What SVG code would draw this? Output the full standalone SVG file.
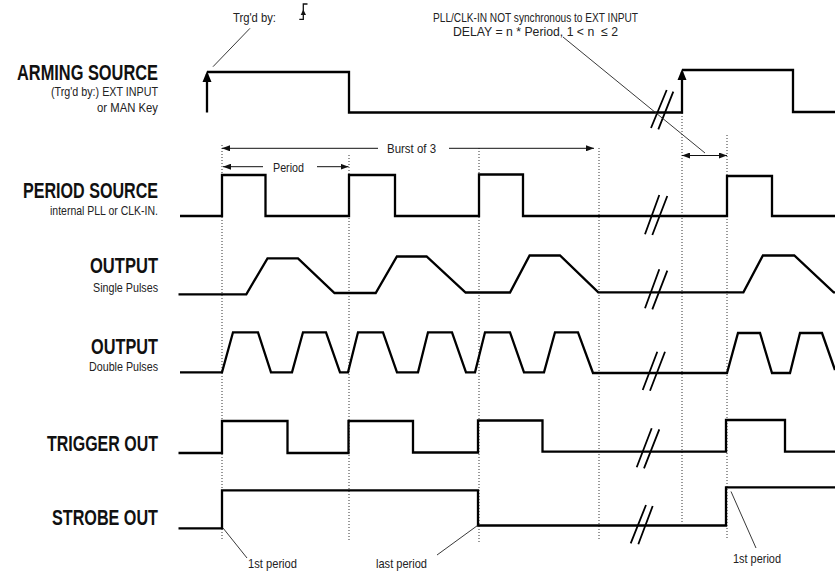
<svg xmlns="http://www.w3.org/2000/svg" width="835" height="571" viewBox="0 0 835 571">
<defs>
<marker id="ah" viewBox="0 0 8 6" refX="8" refY="3" markerWidth="8" markerHeight="6" markerUnits="userSpaceOnUse" orient="auto-start-reverse">
<path d="M0,0 L8,3 L0,6 z" fill="#111"/>
</marker>
<style>
.bg{fill:#fff}
.sig{fill:none;stroke:#000;stroke-width:2.3;stroke-linejoin:miter;stroke-linecap:butt}
.brk{stroke:#000;stroke-width:1.8;fill:none}
.dot{stroke:#333;stroke-width:1;stroke-dasharray:1 2;fill:none}
.ann{stroke:#222;stroke-width:0.9;fill:none}
.dim{stroke:#111;stroke-width:1;fill:none}
.big{font-family:"Liberation Sans","DejaVu Sans",sans-serif;font-weight:bold;font-size:22px;fill:#111}
.sm{font-family:"Liberation Sans","DejaVu Sans",sans-serif;font-size:13.5px;fill:#222}
</style>
</defs>
<rect class="bg" x="0" y="0" width="835" height="571"/>

<g id="guides">
<line class="dot" x1="222" y1="145" x2="222" y2="540"/>
<line class="dot" x1="349" y1="155" x2="349" y2="540"/>
<line class="dot" x1="479" y1="148" x2="479" y2="542"/>
<line class="dot" x1="599" y1="148" x2="599" y2="540"/>
<line class="dot" x1="682" y1="113" x2="682" y2="523"/>
<line class="dot" x1="727" y1="135" x2="727" y2="538"/>
</g>

<g id="labels">
<g id="label-arming">
<text class="big" x="17" y="80" textLength="141" lengthAdjust="spacingAndGlyphs">ARMING SOURCE</text>
<text class="sm" x="51" y="96" textLength="107" lengthAdjust="spacingAndGlyphs">(Trg'd by:) EXT INPUT</text>
<text class="sm" x="97" y="112" textLength="61" lengthAdjust="spacingAndGlyphs">or MAN Key</text>
</g>
<g id="label-period">
<text class="big" x="23" y="198" textLength="135" lengthAdjust="spacingAndGlyphs">PERIOD SOURCE</text>
<text class="sm" x="50" y="215" textLength="108" lengthAdjust="spacingAndGlyphs">internal PLL or CLK-IN.</text>
</g>
<g id="label-single">
<text class="big" x="90" y="273" textLength="68" lengthAdjust="spacingAndGlyphs">OUTPUT</text>
<text class="sm" x="93" y="292" textLength="65" lengthAdjust="spacingAndGlyphs">Single Pulses</text>
</g>
<g id="label-double">
<text class="big" x="91" y="354" textLength="67" lengthAdjust="spacingAndGlyphs">OUTPUT</text>
<text class="sm" x="89" y="371" textLength="69" lengthAdjust="spacingAndGlyphs">Double Pulses</text>
</g>
<g id="label-trigger">
<text class="big" x="47" y="451" textLength="111" lengthAdjust="spacingAndGlyphs">TRIGGER OUT</text>
</g>
<g id="label-strobe">
<text class="big" x="52" y="525" textLength="106" lengthAdjust="spacingAndGlyphs">STROBE OUT</text>
</g>
</g>

<g id="signals">
<g id="sig-arming">
<path class="sig" d="M207,112.5 V74 M207,72 H349 V112.5 H682 V72 M682,70 H793 V112 H835"/>
<polygon points="202.5,82 211.5,82 207,71" fill="#000"/>
<polygon points="677.5,80 686.5,80 682,69" fill="#000"/>
</g>
<g id="sig-period">
<path class="sig" d="M180,216 H222 V175 H265.5 V216 H349 V175 H395 V216 H479 V174.5 H523 V216 H727 V176 H772 V216 H835"/>
</g>
<g id="sig-single">
<path class="sig" d="M178.5,294.3 H246.3 L267.5,258.3 H298 L334.5,293 H375.7 L396.9,256.5 H426.6 L465.6,292.5 H510 L529.6,255.5 H560 L598.3,292.3 H743.4 L762.9,255.5 H794.3 L833.7,292.3 H835"/>
</g>
<g id="sig-double">
<path class="sig" d="M180,372.3 H222 L233,332.3 H258 L271,372.3 H292 L303,332.3 H326 L340,372.3 H348 L358,332.3 H383 L397,372.3 H418 L428,332.3 H452 L466,372.3 H475 L485,332.3 H510 L524,372.3 H544 L555,332.3 H578 L593,373 H727 L738,333 H760 L772,373 H790 L800,333 H822 L835,370"/>
</g>
<g id="sig-trigger">
<path class="sig" d="M178.5,453 H222 V421 H287.5 V453 H348.5 V421 H413 V452.5 H478 V420.5 H542.5 V451.7 H726 V420 H785 V451.7 H835"/>
</g>
<g id="sig-strobe">
<path class="sig" d="M178.5,528.3 H222 V490.3 H478 V525.5 H726 V487.3 H835"/>
</g>
</g>

<g id="breaks">
<path class="brk" d="M651,128 L666.7,90 M658.3,129.3 L673.3,91.7"/>
<path class="brk" d="M645,234.3 L659.3,195 M652.3,235 L667.3,196"/>
<path class="brk" d="M645,308.3 L659.3,269.3 M652.3,309.3 L667.3,270.7"/>
<path class="brk" d="M642.7,390 L657.3,351.7 M650,390.7 L665,351.7"/>
<path class="brk" d="M636.7,467.3 L651.7,428.3 M644,468.3 L659.3,429.3"/>
<path class="brk" d="M630.7,543.3 L646,505 M638.3,544.3 L652.7,506"/>
</g>

<g id="connectors">
<line class="ann" x1="213" y1="66.7" x2="250" y2="28.3"/>
<line class="ann" x1="563" y1="37" x2="705" y2="153"/>
<line class="ann" x1="223" y1="528" x2="247" y2="558"/>
<line class="ann" x1="437" y1="555" x2="477.5" y2="525.5"/>
<line class="ann" x1="731" y1="491.5" x2="756" y2="548"/>
<line class="dim" x1="222" y1="148.3" x2="378" y2="148.3" marker-start="url(#ah)"/>
<line class="dim" x1="449" y1="148.3" x2="594" y2="148.3" marker-end="url(#ah)"/>
<line class="dim" x1="223" y1="166.7" x2="263" y2="166.7" marker-start="url(#ah)"/>
<line class="dim" x1="317" y1="166.7" x2="348.5" y2="166.7" marker-end="url(#ah)"/>
<line class="dim" x1="682" y1="155.5" x2="727" y2="155.5" marker-start="url(#ah)" marker-end="url(#ah)"/>
</g>

<g id="annotations">
<g id="trg-by">
<text class="sm" x="233" y="22" textLength="43" lengthAdjust="spacingAndGlyphs">Trg'd by:</text>
<path d="M299.3,19.3 H303.3 V4 H307.5" fill="none" stroke="#111" stroke-width="1.3"/>
<polygon points="300.7,15 306,15 303.3,9.5" fill="#111"/>
</g>
<g id="delay-note">
<text class="sm" x="433" y="22" textLength="205" lengthAdjust="spacingAndGlyphs">PLL/CLK-IN NOT synchronous to EXT INPUT</text>
<text class="sm" x="453" y="36" textLength="165" lengthAdjust="spacingAndGlyphs" xml:space="preserve">DELAY = n * Period, 1 &lt; n  ≤ 2</text>
</g>
<text class="sm" x="387" y="153" textLength="49" lengthAdjust="spacingAndGlyphs">Burst of 3</text>
<text class="sm" x="273" y="172" textLength="31" lengthAdjust="spacingAndGlyphs">Period</text>
<text class="sm" x="248" y="568" textLength="49" lengthAdjust="spacingAndGlyphs">1st period</text>
<text class="sm" x="376" y="568" textLength="51" lengthAdjust="spacingAndGlyphs">last period</text>
<text class="sm" x="733" y="563" textLength="48" lengthAdjust="spacingAndGlyphs">1st period</text>
</g>
</svg>
